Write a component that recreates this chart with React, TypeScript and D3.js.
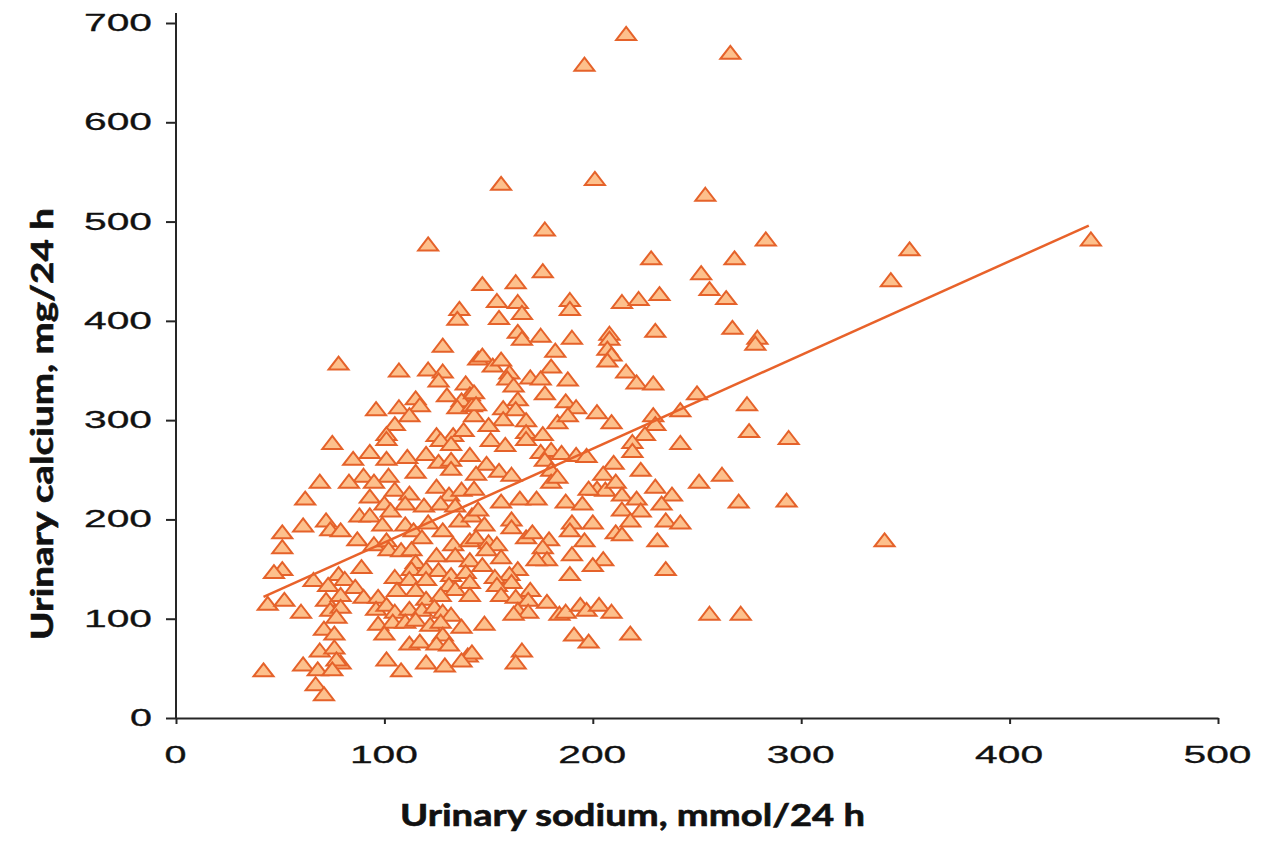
import * as d3 from 'd3';
import { useRef, useEffect } from 'react';

// urinary sodium (mmol/24 h) and calcium (mg/24 h)
const sodium = [
  216, 196, 266, 156, 201, 121, 177, 254, 283, 228,
  268, 439, 352, 343, 252, 256, 264, 267, 279, 278,
  250, 274, 275, 294, 251, 262, 270, 293, 340, 256,
  271, 136, 135, 128, 78, 107, 121, 128, 126, 139,
  145, 130, 141, 137, 135, 142, 143, 96, 107, 115,
  117, 112, 105, 101, 101, 75, 125, 133, 138, 127,
  132, 85, 93, 101, 111, 120, 126, 132, 132, 141,
  115, 90, 102, 69, 83, 95, 105, 112, 125, 131,
  137, 143, 62, 93, 100, 103, 110, 119, 127, 134,
  88, 93, 72, 74, 79, 61, 51, 99, 110, 114,
  121, 128, 136, 142, 87, 51, 95, 101, 102, 108,
  113, 118, 133, 141, 125, 134, 141, 51, 47, 89,
  115, 113, 120, 126, 132, 139, 78, 66, 73, 81,
  86, 105, 112, 120, 131, 134, 141, 72, 79, 90,
  97, 106, 115, 120, 127, 141, 44, 52, 60, 74,
  79, 96, 101, 105, 112, 118, 124, 128, 132, 77,
  97, 104, 110, 115, 122, 127, 137, 71, 76, 100,
  128, 112, 117, 125, 131, 140, 142, 69, 76, 79,
  77, 61, 68, 75, 42, 101, 108, 120, 129, 137,
  67, 71, 176, 147, 163, 154, 164, 166, 155, 189,
  189, 214, 222, 232, 164, 166, 175, 190, 208, 208,
  230, 182, 207, 209, 207, 147, 152, 156, 180, 160,
  159, 170, 175, 162, 188, 216, 221, 229, 177, 143,
  144, 164, 187,
  157, 163, 192, 202,
  157, 168, 183, 188, 209, 242, 229, 230, 150,
  168, 176, 225, 151, 158, 168, 175, 180, 185, 192, 197, 219, 219, 242,
  149, 155, 161, 177, 180, 210, 223, 205, 144, 180, 183, 202, 206, 211, 198, 214, 221, 230, 238, 233,
  156, 165, 173, 187, 195, 214, 223, 145, 161, 161, 148, 190, 200, 218, 235, 242,
  189, 211, 214, 168, 171, 179, 196, 231, 144, 150, 154, 176, 190, 178, 173, 156, 149, 205, 200, 235, 147, 164, 189, 160, 153,
  161, 154, 170, 156, 163, 169, 178, 164, 169, 162, 184, 187, 194, 197, 203, 209, 148, 191, 198, 218, 166, 163,
];

const calcium = [
  689, 658, 670, 538, 543, 477, 492, 527, 482, 463,
  463, 482, 472, 441, 448, 432, 423, 393, 383, 377,
  327, 316, 289, 282, 238, 245, 218, 219, 179, 105,
  105, 412, 402, 375, 357, 350, 351, 349, 340, 337,
  362, 325, 326, 320, 313, 315, 305, 311, 313, 322,
  315, 305, 296, 286, 281, 277, 285, 285, 290, 280,
  276, 261, 268, 261, 263, 266, 258, 260, 251, 265,
  248, 244, 244, 238, 238, 238, 230, 226, 233, 225,
  230, 231, 221, 223, 216, 209, 216, 214, 216, 214,
  204, 204, 199, 190, 189, 194, 187, 195, 195, 189,
  197, 189, 199, 204, 180, 172, 175, 179, 170, 169,
  170, 182, 175, 179, 164, 164, 159, 150, 147, 152,
  157, 150, 150, 149, 144, 147, 145, 139, 134, 140,
  132, 142, 140, 140, 134, 130, 137, 119, 124, 122,
  122, 129, 129, 120, 124, 124, 115, 119, 107, 109,
  112, 110, 114, 107, 110, 109, 112, 107, 104, 102,
  95, 97, 97, 99, 94, 97, 92, 90, 85, 85,
  84, 75, 77, 75, 74, 63, 66, 68, 71, 56,
  59, 54, 49, 49, 48, 59, 48, 56, 53, 58,
  34, 24, 450, 437, 439, 420, 419, 408, 403, 421,
  412, 419, 422, 427, 389, 382, 385, 383, 387, 382,
  390, 370, 372, 366, 360, 365, 355, 361, 354, 348,
  342, 343, 342, 335, 341, 349, 338, 337, 327, 328,
  316, 321, 319,
  312, 311, 313, 308,
  301, 300, 298, 305, 298, 310, 305, 296, 295,
  288, 286, 286, 280, 275, 281, 268, 270, 267, 265, 264, 278, 269, 277,
  256, 249, 245, 260, 250, 257, 250, 246, 246, 238, 243, 231, 230, 238, 231, 225, 221, 233, 225, 216,
  218, 221, 221, 218, 216, 210, 209, 210, 200, 192, 195, 197, 197, 199, 199, 197,
  189, 187, 185, 182, 187, 180, 179, 179, 182, 177, 175, 172, 165, 160, 160, 162, 170, 160, 154, 150, 154, 150, 145, 145, 142,
  137, 134, 129, 124, 122, 119, 117, 109, 107, 105, 105, 107, 114, 109, 114, 107, 95, 84, 77, 85, 68, 56,
];

// fitted line end points
const trendX = [42, 438];
const trendY = [122, 496];

const xTicks = [0, 100, 200, 300, 400, 500];
const yTicks = [0, 100, 200, 300, 400, 500, 600, 700];

const xTitle = 'Urinary sodium, mmol/24 h';
const yTitle = 'Urinary calcium, mg/24 h';

export default function App() {
  const ref = useRef<SVGSVGElement>(null);

  useEffect(() => {
    const width = 1262;
    const height = 845;

    const x = d3.scaleLinear().domain([0, 500]).range([176, 1218]);
    const y = d3.scaleLinear().domain([0, 700]).range([718, 23]);

    const svg = d3.select(ref.current)
      .attr('width', width)
      .attr('height', height)
      .attr('viewBox', `0 0 ${width} ${height}`);

    svg.selectAll('*').remove();
    svg.append('rect').attr('width', width).attr('height', height).attr('fill', '#fff');

    const axisColor = '#262626';
    const digitW = 23; // tick labels are drawn wide in the original

    // --- y axis ---
    const gy = svg.append('g')
      .attr('transform', `translate(${x(0)},0)`)
      .call(d3.axisLeft(y).tickValues(yTicks).tickSize(10).tickSizeOuter(0).tickFormat(() => ''));
    gy.select('.domain').attr('stroke', axisColor).attr('stroke-width', 2)
      .attr('d', `M0,${y(700) - 10}V${y(0)}`);
    gy.selectAll('.tick line').attr('stroke', axisColor).attr('stroke-width', 2);

    svg.append('g')
      .selectAll('text')
      .data(yTicks)
      .join('text')
      .attr('x', d => 153 - String(d).length * digitW)
      .attr('y', d => y(d) + 8)
      .attr('textLength', d => String(d).length * digitW - 1)
      .attr('lengthAdjust', 'spacingAndGlyphs')
      .attr('font-family', "'Liberation Sans', Arial, sans-serif")
      .attr('font-size', 24)
      .attr('stroke', '#111')
      .attr('stroke-width', 0.3)
      .attr('fill', '#111')
      .text(d => d);

    // --- x axis ---
    const gx = svg.append('g')
      .attr('transform', `translate(0,${y(0)})`)
      .call(d3.axisBottom(x).tickValues(xTicks).tickSize(6).tickSizeOuter(0).tickFormat(() => ''));
    gx.select('.domain').attr('stroke', axisColor).attr('stroke-width', 2);
    gx.selectAll('.tick line').attr('stroke', axisColor).attr('stroke-width', 2);

    svg.append('g')
      .selectAll('text')
      .data(xTicks)
      .join('text')
      .attr('x', d => x(d) - (String(d).length * digitW) / 2)
      .attr('y', y(0) + 45)
      .attr('textLength', d => String(d).length * digitW - 1)
      .attr('lengthAdjust', 'spacingAndGlyphs')
      .attr('font-family', "'Liberation Sans', Arial, sans-serif")
      .attr('font-size', 24)
      .attr('stroke', '#111')
      .attr('stroke-width', 0.3)
      .attr('fill', '#111')
      .text(d => d);

    // --- axis titles ---
    svg.append('text')
      .attr('x', 400)
      .attr('y', 826)
      .attr('textLength', 465)
      .attr('lengthAdjust', 'spacingAndGlyphs')
      .attr('font-family', 'Lato, sans-serif')
      .attr('font-weight', 700)
      .attr('font-size', 30)
      .attr('stroke', '#111')
      .attr('stroke-width', 0.6)
      .attr('fill', '#111')
      .text(xTitle);

    svg.append('text')
      .attr('transform', 'translate(53,640) rotate(-90)')
      .attr('textLength', 432)
      .attr('lengthAdjust', 'spacingAndGlyphs')
      .attr('font-family', 'Lato, sans-serif')
      .attr('font-weight', 700)
      .attr('font-size', 30)
      .attr('stroke', '#111')
      .attr('stroke-width', 0.6)
      .attr('fill', '#111')
      .text(yTitle);

    // --- points ---
    const points = sodium.map((s, i) => ({ s, c: calcium[i] }));
    const tri = 'M0,-7L10,6L-10,6Z';

    svg.append('g')
      .selectAll('path')
      .data(points)
      .join('path')
      .attr('d', tri)
      .attr('transform', d => `translate(${x(d.s)},${y(d.c)})`)
      .attr('fill', '#fdc08c')
      .attr('stroke', '#e5622a')
      .attr('stroke-width', 2)
      .attr('stroke-linejoin', 'miter');

    // --- trend line ---
    const line = d3.line<number>()
      .x(d => x(d))
      .y((d, i) => y(trendY[i]));

    svg.append('path')
      .attr('d', line(trendX))
      .attr('fill', 'none')
      .attr('stroke', '#e8622a')
      .attr('stroke-width', 2.5);
  }, []);

  return (
    <svg ref={ref} style={{ position: 'absolute', left: 0, top: 0, display: 'block' }}></svg>
  );
}
